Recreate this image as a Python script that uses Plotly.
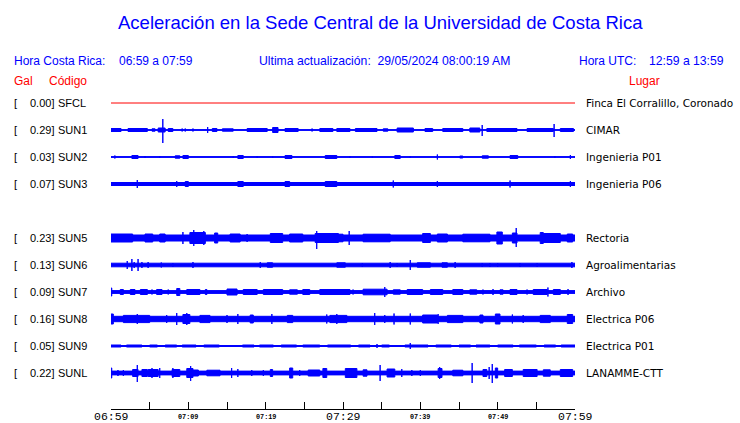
import plotly.graph_objects as go

# ---------------- data ----------------
title = "Aceleración en la Sede Central de la Universidad de Costa Rica"
hora_cr = "06:59 a 07:59"
hora_utc = "12:59 a 13:59"
actualizacion = "29/05/2024 08:00:19 AM"

# row slots (None = empty slot)
codes = ["SFCL", "SUN1", "SUN2", "SUN3", None, "SUN5", "SUN6", "SUN7", "SUN8", "SUN9", "SUNL"]
gal = ["0.00", "0.29", "0.03", "0.07", None, "0.23", "0.13", "0.09", "0.16", "0.05", "0.22"]
lugar = ["Finca El Corralillo, Coronado", "CIMAR", "Ingenieria P01", "Ingenieria P06", None,
         "Rectoria", "Agroalimentarias", "Archivo", "Electrica P06", "Electrica P01", "LANAMME-CTT"]

# minutes after 06:59
tick_minutes = [0, 5, 10, 15, 20, 25, 30, 35, 40, 45, 50, 55, 60]
tick_labels = ["06:59", "", "07:09", "", "07:19", "", "07:29", "", "07:39", "", "07:49", "", "07:59"]
big_ticks = ["06:59", "07:29", "07:59"]

# base (background) half-amplitude of each trace, relative units
base_amp = [0.0, 0.4, 0.4, 1.5, None, 3.0, 1.8, 1.4, 2.7, 0.5, 1.9]

# bursts: (start_min, end_min, amp_up, amp_down), relative units
bursts = {
    "SFCL": [],
    "SUN1": [(0, 1.3, 1.5, 1.5), (2.2, 4.7, 1.5, 1.5), (5.3, 5.7, 1.2, 1.2), (6.1, 7.0, 2, 2), (6.7, 6.7, 11, 13),
             (7.4, 8.0, 1.5, 1.5), (9.2, 9.2, 1.5, 1.5), (9.6, 9.6, 1.5, 1.5), (10.6, 10.6, 1.5, 1.5),
             (12.5, 12.5, 3, 3), (13.1, 13.7, 1.5, 1.5), (14.4, 15.8, 1.2, 1.2), (17.6, 20.2, 1.5, 1.5),
             (20.9, 21.6, 2.5, 2.5), (22.5, 24.2, 1.5, 1.5), (26.0, 26.0, 1.5, 1.5), (27.0, 28.7, 1.5, 1.5),
             (29.2, 30.9, 1.5, 1.5), (31.6, 34.4, 1.5, 1.5), (35.2, 35.8, 1.2, 1.2), (37.0, 39.1, 2, 2),
             (40.6, 41.6, 1.5, 1.5), (42.9, 45.5, 1.5, 1.5), (46.4, 47.7, 2, 2), (48.0, 48.0, 5, 6),
             (48.6, 52.5, 1.5, 1.5), (53.8, 57.2, 1.5, 1.5), (57.3, 57.3, 6, 7), (58.1, 59.8, 1.5, 1.5)],
    "SUN2": [(0.5, 0.5, 1.5, 1.5), (2.7, 3.5, 1.5, 1.5), (4.4, 4.4, 1, 1), (6.3, 6.3, 1, 1), (8.3, 8.9, 1.2, 1.2),
             (9.3, 10.0, 1.5, 1.5), (15.8, 15.8, 1, 1), (16.4, 17.1, 1.5, 1.5), (18.9, 18.9, 1, 1), (20.9, 20.9, 1, 1),
             (22.5, 23.4, 1.5, 1.5), (27.7, 29.2, 1.5, 1.5), (30.9, 30.9, 1, 1), (33.8, 33.8, 1, 1),
             (36.7, 37.4, 1.5, 1.5), (38.7, 38.7, 1, 1), (42.2, 42.2, 2.5, 2.5), (45.1, 45.5, 1, 1),
             (48.0, 48.8, 1.2, 1.2), (51.6, 52.6, 1.5, 1.5), (57.4, 57.4, 1, 1), (59.4, 59.4, 2, 2)],
    "SUN3": [(3.4, 3.4, 4, 4), (8.5, 8.5, 3, 3), (9.6, 10.0, 2.5, 2.5), (10.9, 10.9, 2, 2), (16.4, 17.1, 2.5, 2.5),
             (22.5, 23.1, 2.5, 2.5), (27.7, 29.2, 2.5, 2.5), (30.9, 30.9, 2, 2), (34.8, 34.8, 2, 2),
             (36.5, 36.5, 3.5, 3.5), (39.1, 39.1, 2, 2), (42.2, 42.2, 3, 3), (44.7, 44.7, 2, 2),
             (51.6, 51.6, 3.5, 3.5), (55.9, 55.9, 2, 2), (59.4, 59.4, 3, 3)],
    "SUN5": [(0, 2.8, 4, 4), (4.4, 5.4, 4, 4), (6.3, 7.0, 4, 4), (9.3, 9.3, 6, 6), (10.2, 12.2, 5.5, 5.5),
             (10.7, 10.7, 8, 8), (12.0, 12.0, 7, 7), (13.4, 13.8, 5, 5), (15.4, 16.7, 4, 4),
             (17.6, 17.6, 4, 4), (20.6, 22.2, 4.5, 4.5), (23.1, 24.8, 4, 4), (26.4, 29.4, 4.5, 4.5),
             (26.6, 26.6, 7, 11), (28.3, 30.0, 3.8, 3.8), (30.8, 30.8, 7, 7), (32.6, 36.1, 3.8, 3.8),
             (40.3, 41.3, 4.5, 4.5), (42.2, 43.5, 4, 4), (45.5, 49.0, 3.8, 3.8), (49.9, 50.6, 6, 6),
             (51.9, 52.5, 5, 5), (52.4, 52.4, 10, 9), (55.5, 55.9, 5.5, 5.5), (55.9, 58.1, 4.5, 4.5),
             (59.0, 59.7, 4, 4)],
    "SUN6": [(2.1, 2.1, 4, 4), (2.7, 2.7, 6, 6), (3.0, 3.0, 3, 3), (3.5, 3.5, 6, 6), (4.0, 4.0, 3, 3),
             (4.8, 4.8, 3, 3), (6.5, 6.5, 2.5, 2.5), (8.0, 8.0, 2, 2), (10.6, 10.6, 3, 3), (19.3, 19.3, 3, 3),
             (20.2, 20.9, 2.2, 2.2), (29.2, 30.3, 2.2, 2.2), (32.5, 32.5, 2, 2), (36.1, 36.1, 3, 3),
             (37.0, 37.0, 2, 2), (38.7, 38.7, 5, 5), (39.6, 41.3, 2.2, 2.2), (42.8, 43.5, 2.2, 2.2),
             (44.5, 44.5, 3, 3), (48.0, 48.0, 2, 2), (49.0, 49.0, 2, 2), (50.0, 50.0, 2, 2),
             (52.9, 52.9, 2, 2), (55.1, 55.1, 2, 2), (59.6, 59.6, 3, 3)],
    "SUN7": [(0, 0.1, 4, 4), (1.2, 1.6, 2.5, 2.5), (2.5, 3.1, 2.5, 2.5), (3.8, 4.7, 2.5, 2.5), (5.3, 5.3, 2.5, 2.5),
             (5.9, 6.6, 2.5, 2.5), (7.4, 7.4, 2.5, 2.5), (8.5, 8.9, 3.5, 3.5), (9.8, 11.5, 2.5, 2.5),
             (12.2, 12.4, 2.5, 2.5), (15.0, 16.3, 3, 3), (17.1, 18.9, 2.5, 2.5), (19.7, 22.2, 2.5, 2.5),
             (23.1, 24.1, 2.2, 2.2), (24.8, 25.7, 2.5, 2.5), (27.0, 30.9, 2.5, 2.5), (31.3, 31.3, 2.5, 2.5),
             (32.6, 35.7, 2.8, 2.8), (35.4, 35.4, 5, 5), (36.5, 37.4, 2.2, 2.2), (38.3, 40.3, 2.5, 2.5),
             (41.3, 42.9, 2.5, 2.5), (44.2, 45.5, 2.5, 2.5), (46.4, 47.3, 2.2, 2.2), (48.1, 48.1, 2.5, 2.5),
             (49.4, 49.4, 3, 3), (50.3, 50.7, 2.2, 2.2), (51.6, 52.5, 2.5, 2.5), (53.8, 53.8, 2.5, 2.5),
             (54.6, 56.4, 2.5, 2.5), (56.5, 56.5, 4.5, 4.5), (57.2, 58.1, 2.5, 2.5), (59.1, 59.1, 3, 3)],
    "SUN8": [(0, 0.3, 5, 5), (1.6, 5.0, 3.6, 3.6), (3.4, 3.4, 5, 5), (7.2, 7.2, 4, 4), (8.5, 8.5, 6, 6),
             (9.3, 10.2, 4.5, 4.5), (9.8, 9.8, 6, 6), (11.5, 12.8, 3.6, 3.6), (15.0, 15.0, 4, 4), (16.4, 16.4, 5, 5),
             (18.0, 18.4, 4, 4), (20.8, 20.8, 5, 5), (22.8, 23.5, 3.6, 3.6), (27.9, 27.9, 4.5, 4.5),
             (28.3, 30.5, 3.6, 3.6), (29.2, 29.2, 5, 5), (34.1, 34.1, 6, 6), (35.4, 35.4, 4, 4),
             (36.6, 36.6, 5.5, 5.5), (38.7, 38.7, 5.5, 5.5), (40.3, 42.2, 4, 4), (42.3, 42.3, 5, 5),
             (43.5, 45.5, 3.6, 3.6), (47.7, 48.1, 4, 4), (49.7, 50.3, 5, 5), (51.9, 51.9, 4.5, 4.5),
             (53.3, 53.3, 4, 4), (55.5, 56.8, 3.6, 3.6), (59.0, 59.7, 4.5, 4.5)],
    "SUN9": [(0, 1.3, 1.0, 1.0), (2.0, 4.0, 1.0, 1.0), (5.0, 6.0, 1.0, 1.0), (7.0, 8.5, 1.0, 1.0),
             (9.2, 11.0, 1.0, 1.0), (12.0, 14.0, 1.0, 1.0), (17.0, 18.5, 1.0, 1.0), (19.2, 21.0, 1.0, 1.0),
             (22.0, 24.0, 1.0, 1.0), (24.8, 27.0, 1.0, 1.0), (28.0, 31.0, 1.0, 1.0), (32.0, 33.5, 1.0, 1.0),
             (34.4, 34.4, 2, 2), (35.0, 36.0, 1.0, 1.0), (38.0, 41.0, 1.0, 1.0), (38.7, 38.7, 3, 3),
             (42.0, 44.0, 1.0, 1.0), (45.0, 46.5, 1.0, 1.0), (47.2, 49.0, 1.0, 1.0), (50.0, 52.0, 1.0, 1.0),
             (52.8, 55.0, 1.0, 1.0), (56.0, 57.5, 1.0, 1.0), (58.2, 60.0, 1.0, 1.0)],
    "SUNL": [(0, 0.1, 5, 5), (0.9, 0.9, 3, 3), (1.6, 1.6, 3, 3), (2.8, 3.5, 3.5, 3.5), (3.4, 3.4, 8, 9),
             (4.0, 4.7, 3.5, 3.5), (4.8, 6.1, 3.5, 3.5), (5.3, 5.3, 5, 5), (6.3, 6.3, 5, 5), (7.9, 8.9, 3.5, 3.5),
             (8.0, 8.0, 5, 5), (9.8, 10.6, 4.5, 4.5), (10.3, 10.3, 7, 8), (10.6, 11.3, 3, 3), (12.4, 14.1, 2.8, 2.8),
             (15.6, 15.6, 5, 5), (16.4, 16.4, 4, 4), (18.2, 18.2, 3, 3), (19.7, 19.7, 3, 3),
             (20.6, 20.9, 3.5, 3.5), (23.1, 23.5, 5, 5), (24.4, 24.4, 3, 3), (25.5, 27.0, 3, 3),
             (27.4, 27.9, 4.5, 4.5), (30.3, 31.8, 4.5, 4.5), (32.6, 33.1, 3.2, 3.2), (34.8, 34.8, 8, 8),
             (35.7, 36.7, 4, 4), (37.6, 37.6, 4, 4), (38.9, 38.9, 3, 3), (40.0, 40.0, 3, 3),
             (42.3, 42.8, 4.5, 4.5), (42.5, 42.5, 6, 6), (44.2, 45.5, 2.8, 2.8), (46.7, 46.7, 10, 10),
             (48.1, 48.6, 3.5, 3.5), (48.9, 48.9, 6, 6), (49.3, 49.3, 9, 10), (49.7, 50.0, 5, 5),
             (50.9, 51.9, 3.5, 3.5), (53.3, 55.1, 3.5, 3.5), (55.9, 56.8, 3.2, 3.2), (58.1, 59.7, 3.5, 3.5)],
}

# ---------------- styling ----------------
W, H = 740, 423
ML, MR, MT, MB = 111, 165, 90, 14
ROW_PX = 27.0                   # pixel spacing of rows
FIRST_ROW_PX = 103.0            # pixel y of first row
AMP_SCALE = 1.0 / ROW_PX        # relative amplitude unit -> row units
BLUE = "#0000ff"
RED = "#ff0000"
T_END = tick_minutes[-1]

y_top = (MT - FIRST_ROW_PX) / ROW_PX
y_bot = (H - MB - FIRST_ROW_PX) / ROW_PX

fig = go.Figure()

for row, code in enumerate(codes):
    if code is None:
        continue
    b = base_amp[row] * AMP_SCALE
    if code == "SFCL":
        fig.add_trace(go.Scatter(x=[0, T_END], y=[row, row], mode="lines",
                                 line=dict(color=RED, width=1), hoverinfo="skip", showlegend=False))
        continue
    xs, ys = [], []
    xs += [0, T_END, T_END, 0, 0, None]
    ys += [row - b, row - b, row + b, row + b, row - b, None]
    for (t0, t1, up, dn) in bursts[code]:
        u, d = up * AMP_SCALE, dn * AMP_SCALE
        xs += [t0, t1, t1, t0, t0, None]
        ys += [row - u, row - u, row + d, row + d, row - u, None]
    fig.add_trace(go.Scatter(x=xs, y=ys, mode="lines", fill="toself", fillcolor=BLUE,
                             line=dict(color=BLUE, width=1.0), hoverinfo="skip", showlegend=False))

def px_x(p):
    return (p - ML) / (W - ML - MR)

def px_y(p):
    return 1 - (p - MT) / (H - MT - MB)

ann = []
def text(x_px, y, s, color="black", size=11, family="Liberation Sans", anchor="left", yref="y"):
    ann.append(dict(x=px_x(x_px), y=y, xref="paper", yref=yref, text=s, showarrow=False,
                    xanchor=anchor, yanchor="middle", borderpad=0,
                    font=dict(color=color, size=size, family=family)))

# title and header
text(380, px_y(22), title, BLUE, 18.5, "Liberation Sans", "center", "paper")
text(13, px_y(61), "Hora Costa Rica:", BLUE, 12, "Liberation Sans", "left", "paper")
text(118, px_y(61), hora_cr, BLUE, 12, "Liberation Sans", "left", "paper")
text(258, px_y(61), "Ultima actualización:&nbsp;&nbsp;" + actualizacion, BLUE, 12.2, "Liberation Sans", "left", "paper")
text(578, px_y(61), "Hora UTC:", BLUE, 12, "Liberation Sans", "left", "paper")
text(648, px_y(61), hora_utc, BLUE, 12.2, "Liberation Sans", "left", "paper")
text(13, px_y(81), "Gal", RED, 12, "Liberation Sans", "left", "paper")
text(48, px_y(81), "Código", RED, 12, "Liberation Sans", "left", "paper")
text(628, px_y(81), "Lugar", RED, 12, "Liberation Sans", "left", "paper")

for row, code in enumerate(codes):
    if code is None:
        continue
    text(13, row, "[", "black", 11)
    text(55, row, gal[row] + "]", "black", 11, anchor="right")
    text(57, row, code, "black", 11)
    text(585, row, lugar[row], "black", 10.5, "DejaVu Sans")

# time labels under the axis, positioned on the time scale
for m, lab in zip(tick_minutes, tick_labels):
    if not lab:
        continue
    big = lab in big_ticks
    ann.append(dict(x=m, y=px_y(416 if big else 416.5), xref="x", yref="paper", text=lab,
                    showarrow=False, xanchor="center", yanchor="middle", borderpad=0,
                    font=dict(family="Liberation Mono", size=11.5 if big else 6.8,
                              color="black", weight="normal" if big else "bold")))

fig.update_layout(
    width=W, height=H, margin=dict(l=ML, r=MR, t=MT, b=MB, autoexpand=False),
    paper_bgcolor="white", plot_bgcolor="white",
    annotations=ann,
    xaxis=dict(range=[0, T_END], tickvals=tick_minutes, showticklabels=False, automargin=False,
               showgrid=False, zeroline=False, showline=True, linecolor="black", linewidth=1,
               ticks="inside", ticklen=7, tickcolor="black", tickwidth=1, fixedrange=True),
    yaxis=dict(range=[y_bot, y_top], visible=False, showgrid=False, zeroline=False, fixedrange=True),
)

fig.write_html("out.html", config={"displayModeBar": False},
               post_script="document.body.style.margin='0px';")
